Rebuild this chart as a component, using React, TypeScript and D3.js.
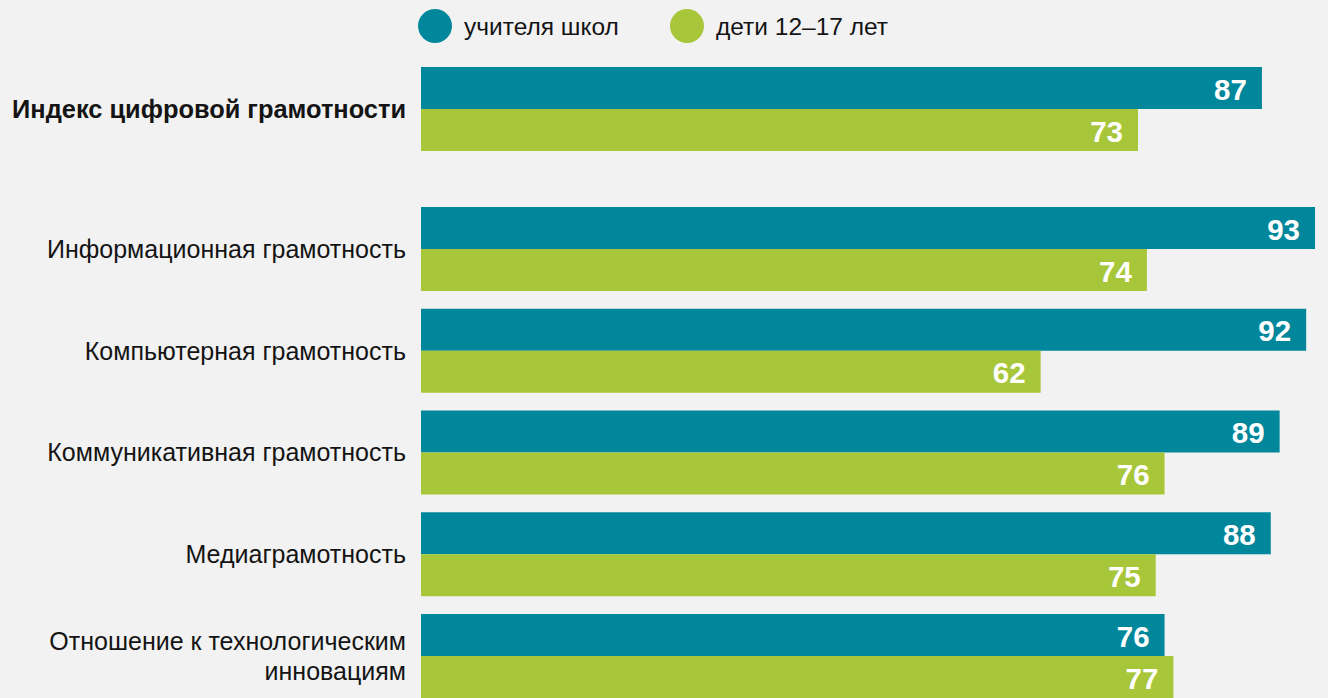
import { useRef, useEffect } from "react";
import * as d3 from "d3";

const categories = [
  "Индекс цифровой грамотности",
  "Информационная грамотность",
  "Компьютерная грамотность",
  "Коммуникативная грамотность",
  "Медиаграмотность",
  "Отношение к технологическим\nинновациям",
];
const teachers = [87, 93, 92, 89, 88, 76];
const kids = [73, 74, 62, 76, 75, 77];
const seriesNames = ["учителя школ", "дети 12–17 лет"];
const seriesColors = ["#01879b", "#a8c639"];

const App = () => {
  const svgRef = useRef(null);

  useEffect(() => {
    d3.select(svgRef.current).selectAll("*").remove();

    const width = 1328;
    const height = 698;
    const font = "'Liberation Sans', Arial, sans-serif";

    const svg = d3
      .select(svgRef.current)
      .attr("width", width)
      .attr("height", height);

    svg
      .append("rect")
      .attr("width", width)
      .attr("height", height)
      .attr("fill", "#f2f2f2");

    // value scale, bars start at the left edge of the range
    const x = d3.scaleLinear().domain([-8, 100]).range([421, 1377]);
    const x0 = x.range()[0];

    // index row is set apart from the rest
    const groupHeight = 84;
    const rows = d3
      .scaleBand()
      .domain(categories.slice(1))
      .range([207, 207 + 5 * 101.75 - 17.75])
      .paddingInner(0.1745);
    const rowTop = (i) => (i === 0 ? 67 : rows(categories[i]));

    const inner = d3
      .scaleBand()
      .domain(["teachers", "kids"])
      .range([0, groupHeight]);

    const rowData = categories.map((c, i) => ({
      name: c,
      i,
      values: [
        { key: "teachers", value: teachers[i], color: seriesColors[0] },
        { key: "kids", value: kids[i], color: seriesColors[1] },
      ],
    }));

    const groups = svg
      .selectAll("g.row")
      .data(rowData)
      .enter()
      .append("g")
      .attr("class", "row")
      .attr("transform", (d) => `translate(0,${rowTop(d.i)})`);

    groups
      .selectAll("rect")
      .data((d) => d.values)
      .enter()
      .append("rect")
      .attr("x", x0)
      .attr("y", (d) => inner(d.key))
      .attr("width", (d) => x(d.value) - x0)
      .attr("height", inner.bandwidth())
      .attr("fill", (d) => d.color);

    groups
      .selectAll("text.val")
      .data((d) => d.values)
      .enter()
      .append("text")
      .attr("class", "val")
      .attr("x", (d) => x(d.value) - 15)
      .attr("y", (d) => inner(d.key) + inner.bandwidth() / 2 + 1)
      .attr("dy", "0.36em")
      .attr("text-anchor", "end")
      .style("font-family", font)
      .style("font-size", "29.5px")
      .style("font-weight", "bold")
      .style("fill", "white")
      .text((d) => d.value);

    // category labels
    groups.each(function (d) {
      const lines = d.name.split("\n");
      const lineHeight = 30;
      const text = d3
        .select(this)
        .append("text")
        .attr("text-anchor", "end")
        .style("font-family", font)
        .style("font-size", d.i === 0 ? "25.4px" : "25px")
        .style("font-weight", d.i === 0 ? "bold" : "normal")
        .style("fill", "#141414");
      lines.forEach((line, k) => {
        text
          .append("tspan")
          .attr("x", 406)
          .attr(
            "y",
            groupHeight / 2 + (k - (lines.length - 1) / 2) * lineHeight
          )
          .attr("dy", "0.35em")
          .text(line);
      });
    });

    // legend
    const legendX = [435, 687];
    const legend = svg
      .selectAll("g.legend")
      .data(seriesNames)
      .enter()
      .append("g")
      .attr("class", "legend")
      .attr("transform", (d, i) => `translate(${legendX[i]},26)`);

    legend
      .append("circle")
      .attr("r", 17)
      .attr("fill", (d, i) => seriesColors[i]);

    legend
      .append("text")
      .attr("x", 29)
      .attr("dy", "0.35em")
      .style("font-family", font)
      .style("font-size", "24.5px")
      .style("fill", "#141414")
      .text((d) => d);
  }, []);

  return (
    <div style={{ position: "absolute", left: 0, top: 0 }}>
      <svg ref={svgRef} style={{ display: "block" }}></svg>
    </div>
  );
};

export default App;
